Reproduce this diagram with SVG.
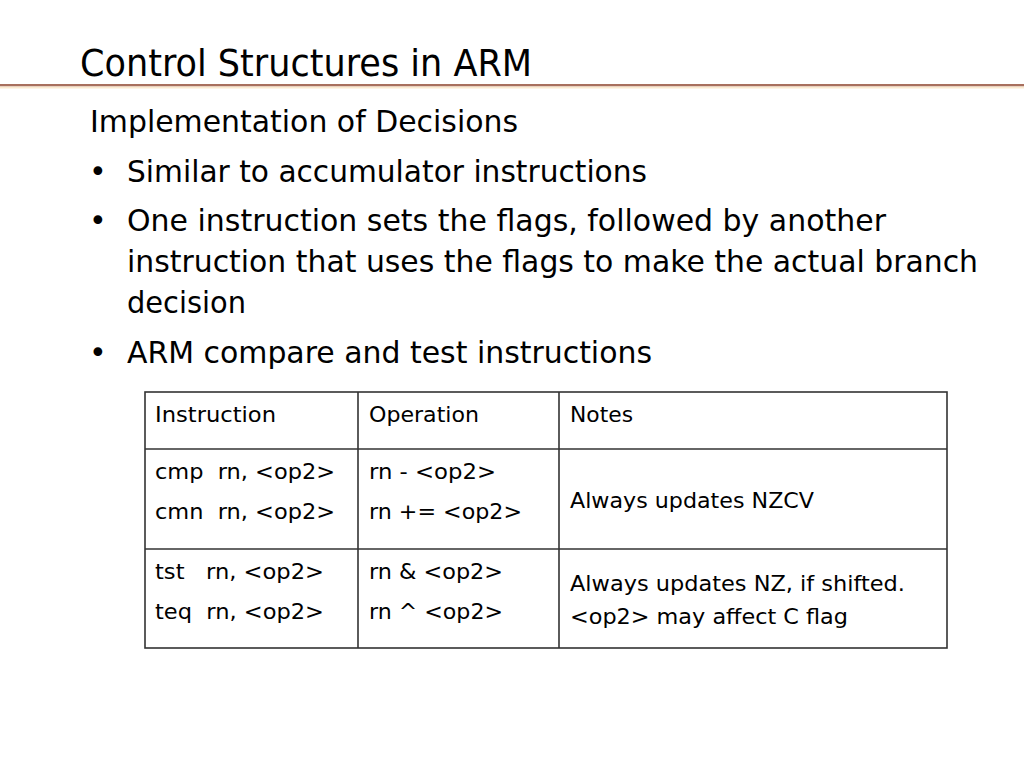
<svg xmlns="http://www.w3.org/2000/svg" width="1024" height="768" viewBox="0 0 1024 768">
<style>
text{font-family:"DejaVu Sans","Liberation Sans",sans-serif;fill:#000}
.t{font-size:38px}
.b{font-size:30px}
.c{font-size:22px}
.g{stroke:#333;stroke-width:1.6;fill:none}
</style>
<rect width="1024" height="768" fill="#fff"/>
<g id="title">
<text class="t" x="80" y="76" textLength="452" lengthAdjust="spacingAndGlyphs">Control Structures in ARM</text>
<rect x="0" y="84" width="1024" height="2.5" fill="#a8705e"/>
<rect x="0" y="86.5" width="1024" height="2" fill="#fbead0"/>
</g>
<g id="body">
<text class="b" x="90" y="132" textLength="428" lengthAdjust="spacingAndGlyphs">Implementation of Decisions</text>
<text class="b" x="89" y="182">•</text>
<text class="b" x="127" y="182" textLength="520" lengthAdjust="spacingAndGlyphs">Similar to accumulator instructions</text>
<text class="b" x="89" y="231">•</text>
<text class="b" x="127" y="231" textLength="759" lengthAdjust="spacingAndGlyphs">One instruction sets the flags, followed by another</text>
<text class="b" x="127" y="272" textLength="851" lengthAdjust="spacingAndGlyphs">instruction that uses the flags to make the actual branch</text>
<text class="b" x="127" y="313" textLength="119" lengthAdjust="spacingAndGlyphs">decision</text>
<text class="b" x="89" y="363">•</text>
<text class="b" x="127" y="363" textLength="525" lengthAdjust="spacingAndGlyphs">ARM compare and test instructions</text>
</g>
<g id="table">
<rect class="g" x="145" y="392" width="802" height="256"/>
<line class="g" x1="358" y1="392" x2="358" y2="648"/>
<line class="g" x1="559" y1="392" x2="559" y2="648"/>
<line class="g" x1="145" y1="449" x2="947" y2="449"/>
<line class="g" x1="145" y1="549" x2="947" y2="549"/>
<text class="c" x="155" y="422" textLength="121" lengthAdjust="spacingAndGlyphs">Instruction</text>
<text class="c" x="369" y="422" textLength="110" lengthAdjust="spacingAndGlyphs">Operation</text>
<text class="c" x="570" y="422" textLength="63" lengthAdjust="spacingAndGlyphs">Notes</text>
<text class="c" x="155" y="479" textLength="180" lengthAdjust="spacingAndGlyphs" xml:space="preserve">cmp  rn, &lt;op2&gt;</text>
<text class="c" x="155" y="519" textLength="180" lengthAdjust="spacingAndGlyphs" xml:space="preserve">cmn  rn, &lt;op2&gt;</text>
<text class="c" x="369" y="479" textLength="127" lengthAdjust="spacingAndGlyphs">rn - &lt;op2&gt;</text>
<text class="c" x="369" y="519" textLength="153" lengthAdjust="spacingAndGlyphs">rn += &lt;op2&gt;</text>
<text class="c" x="570" y="508" textLength="244" lengthAdjust="spacingAndGlyphs">Always updates NZCV</text>
<text class="c" x="155" y="579" textLength="169" lengthAdjust="spacingAndGlyphs" xml:space="preserve">tst   rn, &lt;op2&gt;</text>
<text class="c" x="155" y="619" textLength="169" lengthAdjust="spacingAndGlyphs" xml:space="preserve">teq  rn, &lt;op2&gt;</text>
<text class="c" x="369" y="579" textLength="134" lengthAdjust="spacingAndGlyphs">rn &amp; &lt;op2&gt;</text>
<text class="c" x="369" y="619" textLength="134" lengthAdjust="spacingAndGlyphs">rn ^ &lt;op2&gt;</text>
<text class="c" x="570" y="591" textLength="335" lengthAdjust="spacingAndGlyphs">Always updates NZ, if shifted.</text>
<text class="c" x="570" y="624" textLength="278" lengthAdjust="spacingAndGlyphs">&lt;op2&gt; may affect C flag</text>
</g>
</svg>
